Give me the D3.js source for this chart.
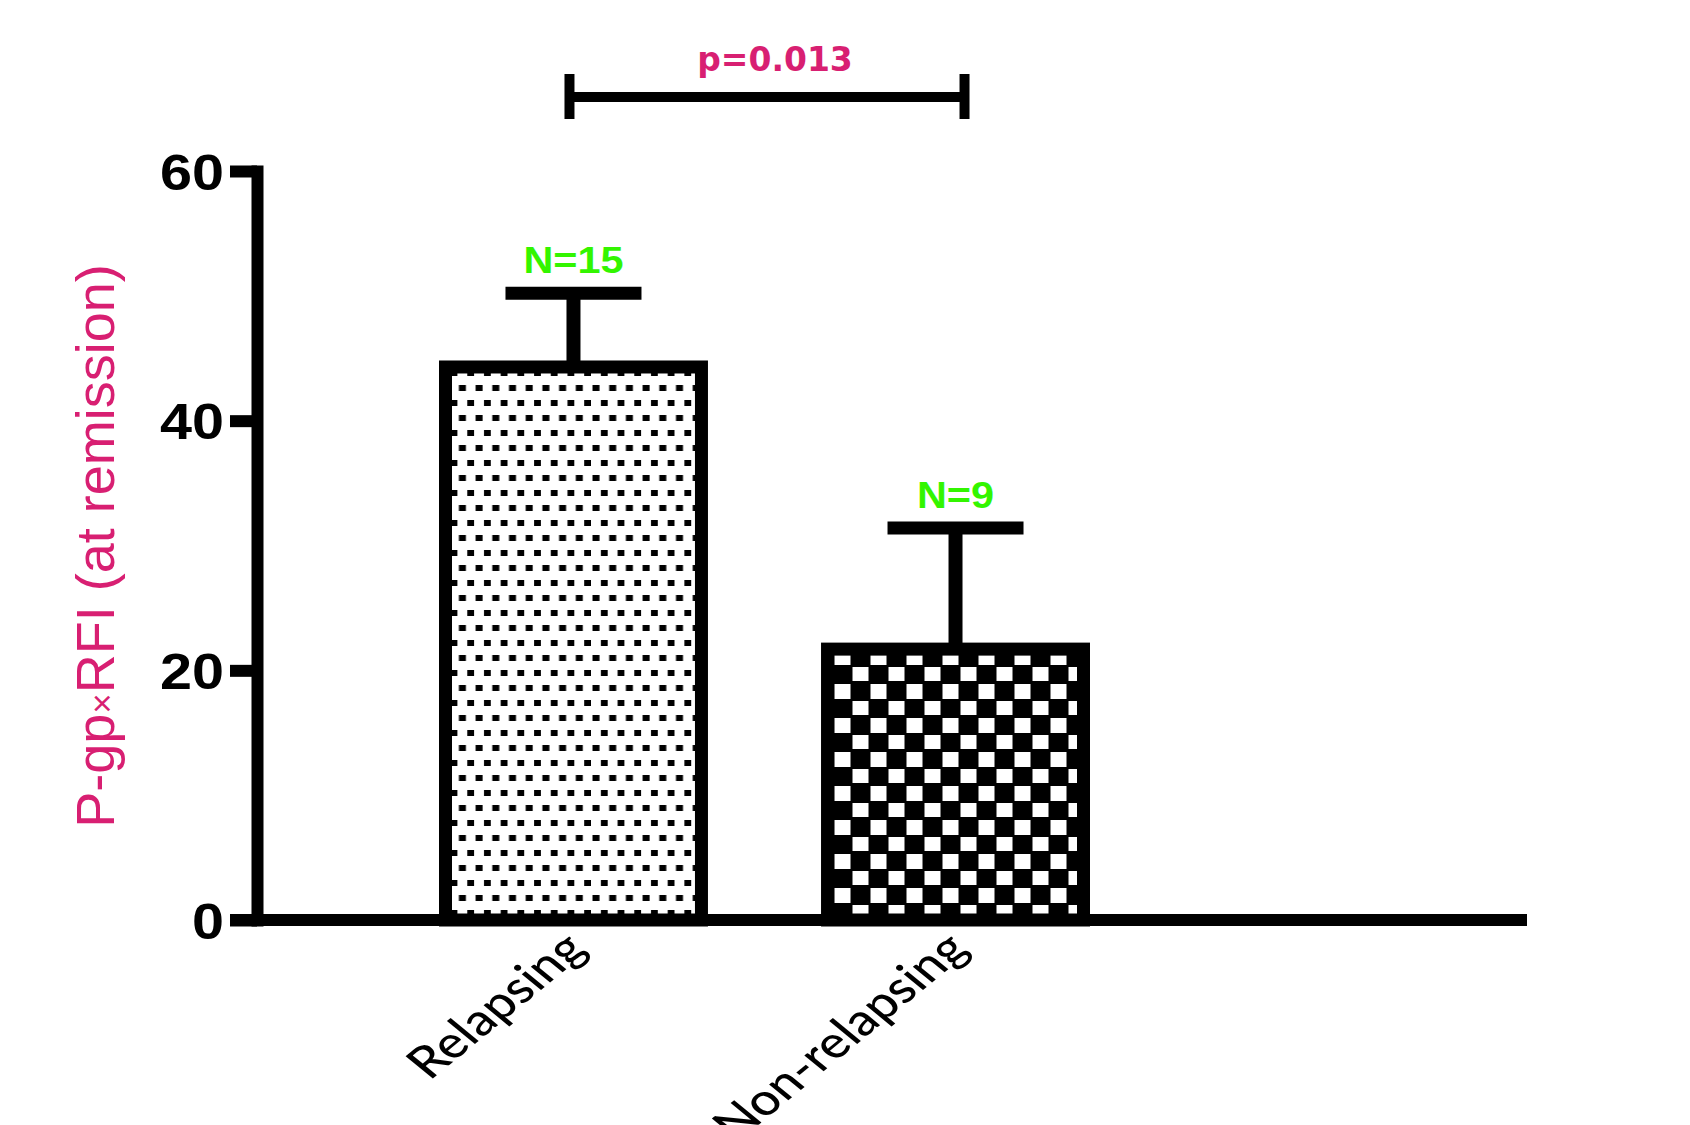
<!DOCTYPE html>
<html>
<head>
<meta charset="utf-8">
<script src="https://cdn.jsdelivr.net/npm/d3@7"></script>
<style>
  body { margin: 0; background: #fff; }
  #chart { width: 1690px; height: 1125px; }
</style>
</head>
<body>
<div id="chart"></div>
<script>

// data
var categories = ["Relapsing", "Non-relapsing"];
var means      = [44.3, 21.7];
var sems       = [5.9, 9.7];
var nLabels    = ["N=15", "N=9"];
var yTicks     = [0, 20, 40, 60];
var pLabel     = "p=0.013";
var yTitle     = "P-gp×RFI (at remission)";

var pink  = "#d81f72";
var green = "#33f500";
var lw = 12;   // line weight used all over the graph

// set the dimensions and margins of the graph
var margin = { top: 171, right: 163, bottom: 205, left: 257 };
var width  = 1690 - margin.left - margin.right;
var height = 1125 - margin.top - margin.bottom;

// set the ranges
var x = d3.scaleBand()
  .domain(categories)
  .range([188.5, 826.5])
  .paddingInner(0.33)
  .paddingOuter(0);
var y = d3.scaleLinear().domain([0, 60]).range([height, 0]);

var root = d3.select("#chart").append("svg")
  .attr("width", width + margin.left + margin.right)
  .attr("height", height + margin.top + margin.bottom);

// fill patterns
var defs = root.append("defs");

var dots = defs.append("pattern")
  .attr("id", "dots")
  .attr("patternUnits", "userSpaceOnUse")
  .attr("width", 16.7).attr("height", 30);
dots.append("rect").attr("width", 16.7).attr("height", 30).attr("fill", "#fff");
dots.append("rect").attr("x", 1.5).attr("y", 4).attr("width", 7).attr("height", 6).attr("fill", "#000");
dots.append("rect").attr("x", 9.9).attr("y", 19).attr("width", 7).attr("height", 6).attr("fill", "#000");

var checks = defs.append("pattern")
  .attr("id", "checks")
  .attr("patternUnits", "userSpaceOnUse")
  .attr("width", 36).attr("height", 34);
checks.append("rect").attr("width", 36).attr("height", 34).attr("fill", "#000");
checks.append("rect").attr("x", 1.5).attr("y", 3).attr("width", 16).attr("height", 15).attr("fill", "#fff");
checks.append("rect").attr("x", 19.5).attr("y", 20).attr("width", 16).attr("height", 15).attr("fill", "#fff");

var fills = ["url(#dots)", "url(#checks)"];

var svg = root.append("g")
  .attr("transform", "translate(" + margin.left + "," + margin.top + ")");

// bars
svg.selectAll(".bar")
  .data(categories)
  .enter().append("rect")
  .attr("class", "bar")
  .attr("x", function (d) { return x(d); })
  .attr("y", function (d, i) { return y(means[i]); })
  .attr("width", x.bandwidth())
  .attr("height", function (d, i) { return height - y(means[i]); })
  .attr("fill", function (d, i) { return fills[i]; })
  .attr("stroke", "#000")
  .attr("stroke-width", lw + 1);

// error bars (upper only)
var capHalf = 68;
categories.forEach(function (c, i) {
  var cx = x(c) + x.bandwidth() / 2;
  svg.append("line")
    .attr("x1", cx).attr("x2", cx)
    .attr("y1", y(means[i])).attr("y2", y(means[i] + sems[i]))
    .attr("stroke", "#000").attr("stroke-width", lw + 2);
  svg.append("line")
    .attr("x1", cx - capHalf).attr("x2", cx + capHalf)
    .attr("y1", y(means[i] + sems[i])).attr("y2", y(means[i] + sems[i]))
    .attr("stroke", "#000").attr("stroke-width", lw + 1);
  svg.append("text")
    .attr("transform", "translate(" + cx + "," + (y(means[i] + sems[i]) - 20) + ") scale(1.12,1)")
    .attr("text-anchor", "middle")
    .attr("style", "font-family: 'Liberation Sans', Arial, sans-serif; font-weight: bold; font-size: 37px;")
    .attr("fill", green)
    .text(nLabels[i]);
});

// Add the Y Axis
var yAxis = svg.append("g")
  .call(d3.axisLeft(y).tickValues(yTicks).tickSize(27).tickSizeOuter(0).tickPadding(6));
yAxis.select(".domain")
  .attr("stroke-width", lw)
  .attr("stroke-linecap", "square");
yAxis.selectAll(".tick line").attr("stroke-width", lw);
yAxis.selectAll(".tick text")
  .attr("style", "font-family: 'Liberation Sans', Arial, sans-serif; font-weight: bold; font-size: 50px;")
  .attr("fill", "#000")
  .attr("dy", "0.36em")
  .attr("textLength", function (d) { return String(d).length * 32; })
  .attr("lengthAdjust", "spacingAndGlyphs");

// Add the X Axis (baseline drawn long, like the original)
svg.append("line")
  .attr("x1", -27).attr("x2", width)
  .attr("y1", height).attr("y2", height)
  .attr("stroke", "#000").attr("stroke-width", lw);

var xAxis = svg.append("g")
  .attr("transform", "translate(0," + height + ")")
  .call(d3.axisBottom(x).tickSize(0).tickSizeOuter(0));
xAxis.select(".domain").remove();
xAxis.selectAll(".tick text")
  .attr("y", 0).attr("dy", 0)
  .attr("transform", "translate(15,31) scale(1.22,1) rotate(-45)")
  .attr("text-anchor", "end")
  .attr("style", "font-family: Lato, 'Open Sans', sans-serif; font-size: 44px; font-weight: 500;")
  .attr("fill", "#000");

// significance bracket
var bx1 = x(categories[0]) + x.bandwidth() / 2 - 4;
var bx2 = x(categories[1]) + x.bandwidth() / 2 + 9;
var by = -74;
var bracket = svg.append("g").attr("stroke", "#000").attr("stroke-width", lw - 2);
bracket.append("line").attr("x1", bx1).attr("x2", bx2).attr("y1", by).attr("y2", by);
bracket.append("line").attr("x1", bx1).attr("x2", bx1).attr("y1", by - 23).attr("y2", by + 22);
bracket.append("line").attr("x1", bx2).attr("x2", bx2).attr("y1", by - 23).attr("y2", by + 22);

svg.append("text")
  .attr("x", (bx1 + bx2) / 2 + 8)
  .attr("y", by - 26)
  .attr("text-anchor", "middle")
  .attr("style", "font-family: 'DejaVu Sans', Verdana, sans-serif; font-weight: bold; font-size: 33px;")
  .attr("fill", pink)
  .text(pLabel);

// y title
var yt = svg.append("text")
  .attr("transform", "translate(" + (114 - margin.left) + "," + (546 - margin.top) + ") rotate(-90)")
  .attr("text-anchor", "middle")
  .attr("style", "font-family: 'Liberation Sans', Arial, sans-serif; font-size: 54px;")
  .attr("fill", pink);
var parts = yTitle.split("×");
yt.append("tspan").text(parts[0]);
yt.append("tspan").attr("style", "font-size: 35px;").text("×");
yt.append("tspan").text(parts[1]);

</script>
</body>
</html>
